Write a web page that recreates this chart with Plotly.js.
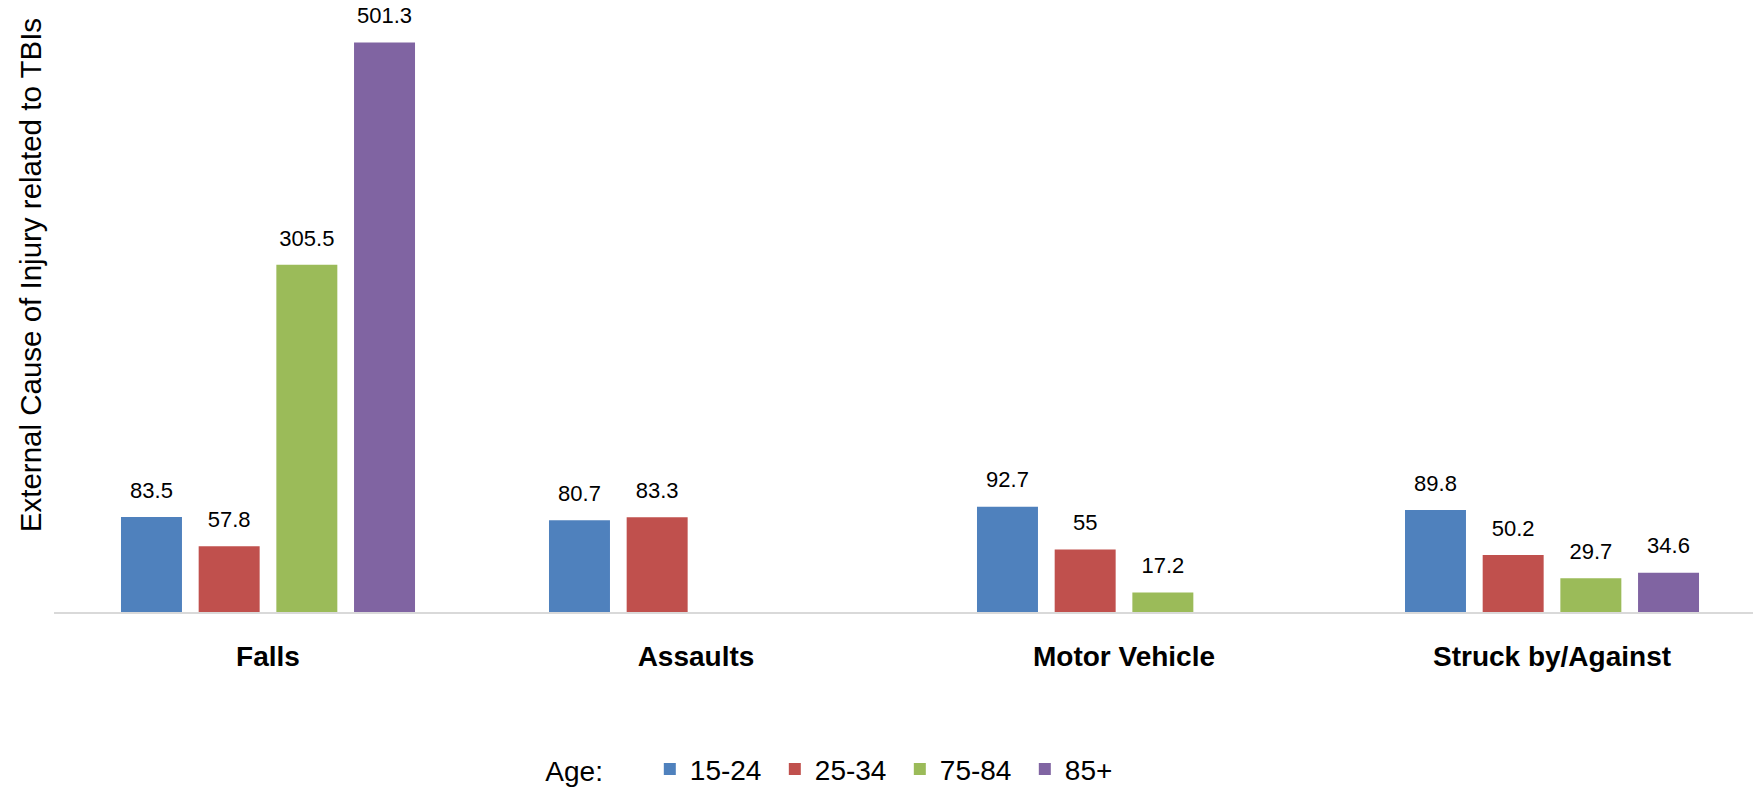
<!DOCTYPE html>
<html>
<head>
<meta charset="utf-8">
<script src="https://cdn.plot.ly/plotly-3.0.1.min.js"></script>
<style>
  html, body { margin: 0; padding: 0; background: #ffffff; }
  #chart { width: 1753px; height: 793px; }
</style>
</head>
<body>
<div id="chart"></div>
<script>
// ---- data ----
const categories = ["Falls", "Assaults", "Motor Vehicle", "Struck by/Against"];
const seriesNames = ["15-24", "25-34", "75-84", "85+"];
const age15_24 = [83.5, 80.7, 92.7, 89.8];
const age25_34 = [57.8, 83.3, 55, 50.2];
const age75_84 = [305.5, null, 17.2, 29.7];
const age85plus = [501.3, null, null, 34.6];
const yTitle = "External Cause of Injury related to TBIs";
const legendTitle = "Age:";

// ---- style ----
const colors = ["#4F81BD", "#C0504D", "#9BBB59", "#8064A2"];
const seriesValues = [age15_24, age25_34, age75_84, age85plus];
const sans = "'Liberation Sans', Arial, sans-serif";

const traces = seriesValues.map((vals, i) => ({
  type: "bar",
  name: seriesNames[i],
  x: categories,
  y: vals,
  marker: { color: colors[i] },
  texttemplate: "<span style='font-size:22px'>%{y}</span><br>\u00A0",
  textposition: "outside",
  constraintext: "none",
  cliponaxis: false,
  textfont: { family: sans, size: 11, color: "#000000" },
  hoverinfo: "x+y+name"
}));

const layout = {
  width: 1753,
  height: 793,
  margin: { l: 53.5, r: 0, t: 0, b: 181.3, pad: 0, autoexpand: false },
  paper_bgcolor: "#ffffff",
  plot_bgcolor: "#ffffff",
  barmode: "group",
  bargap: 0.274,
  bargroupgap: 0.215,
  xaxis: {
    type: "category",
    range: [-0.5, 3.4696],
    showline: true,
    linecolor: "#D9D9D9",
    linewidth: 2,
    ticks: "outside",
    ticklen: 18,
    tickcolor: "rgba(0,0,0,0)",
    showgrid: false,
    zeroline: false,
    tickfont: { family: sans, size: 28, color: "#000000", weight: "bold" },
    automargin: false,
    fixedrange: true
  },
  yaxis: {
    range: [0, 538.6],
    showticklabels: false,
    showgrid: false,
    zeroline: false,
    showline: false,
    ticks: "",
    automargin: false,
    fixedrange: true
  },
  annotations: [{
    text: yTitle,
    xref: "paper", yref: "paper",
    x: -0.0138, y: 0.5496,
    xanchor: "center", yanchor: "middle",
    textangle: -90,
    showarrow: false,
    font: { family: sans, size: 29.5, color: "#000000" }
  }],
  showlegend: true,
  legend: {
    orientation: "h",
    x: 0.288, xanchor: "left",
    y: -0.257, yanchor: "middle",
    font: { family: sans, size: 28, color: "#000000" },
    title: { text: legendTitle + "\u00A0\u00A0\u00A0\u00A0\u00A0", side: "left", font: { family: sans, size: 28, color: "#000000" } },
    entrywidth: 80,
    traceorder: "normal",
    bgcolor: "rgba(0,0,0,0)"
  }
};

Plotly.newPlot("chart", traces, layout, { displayModeBar: false });
</script>
</body>
</html>
